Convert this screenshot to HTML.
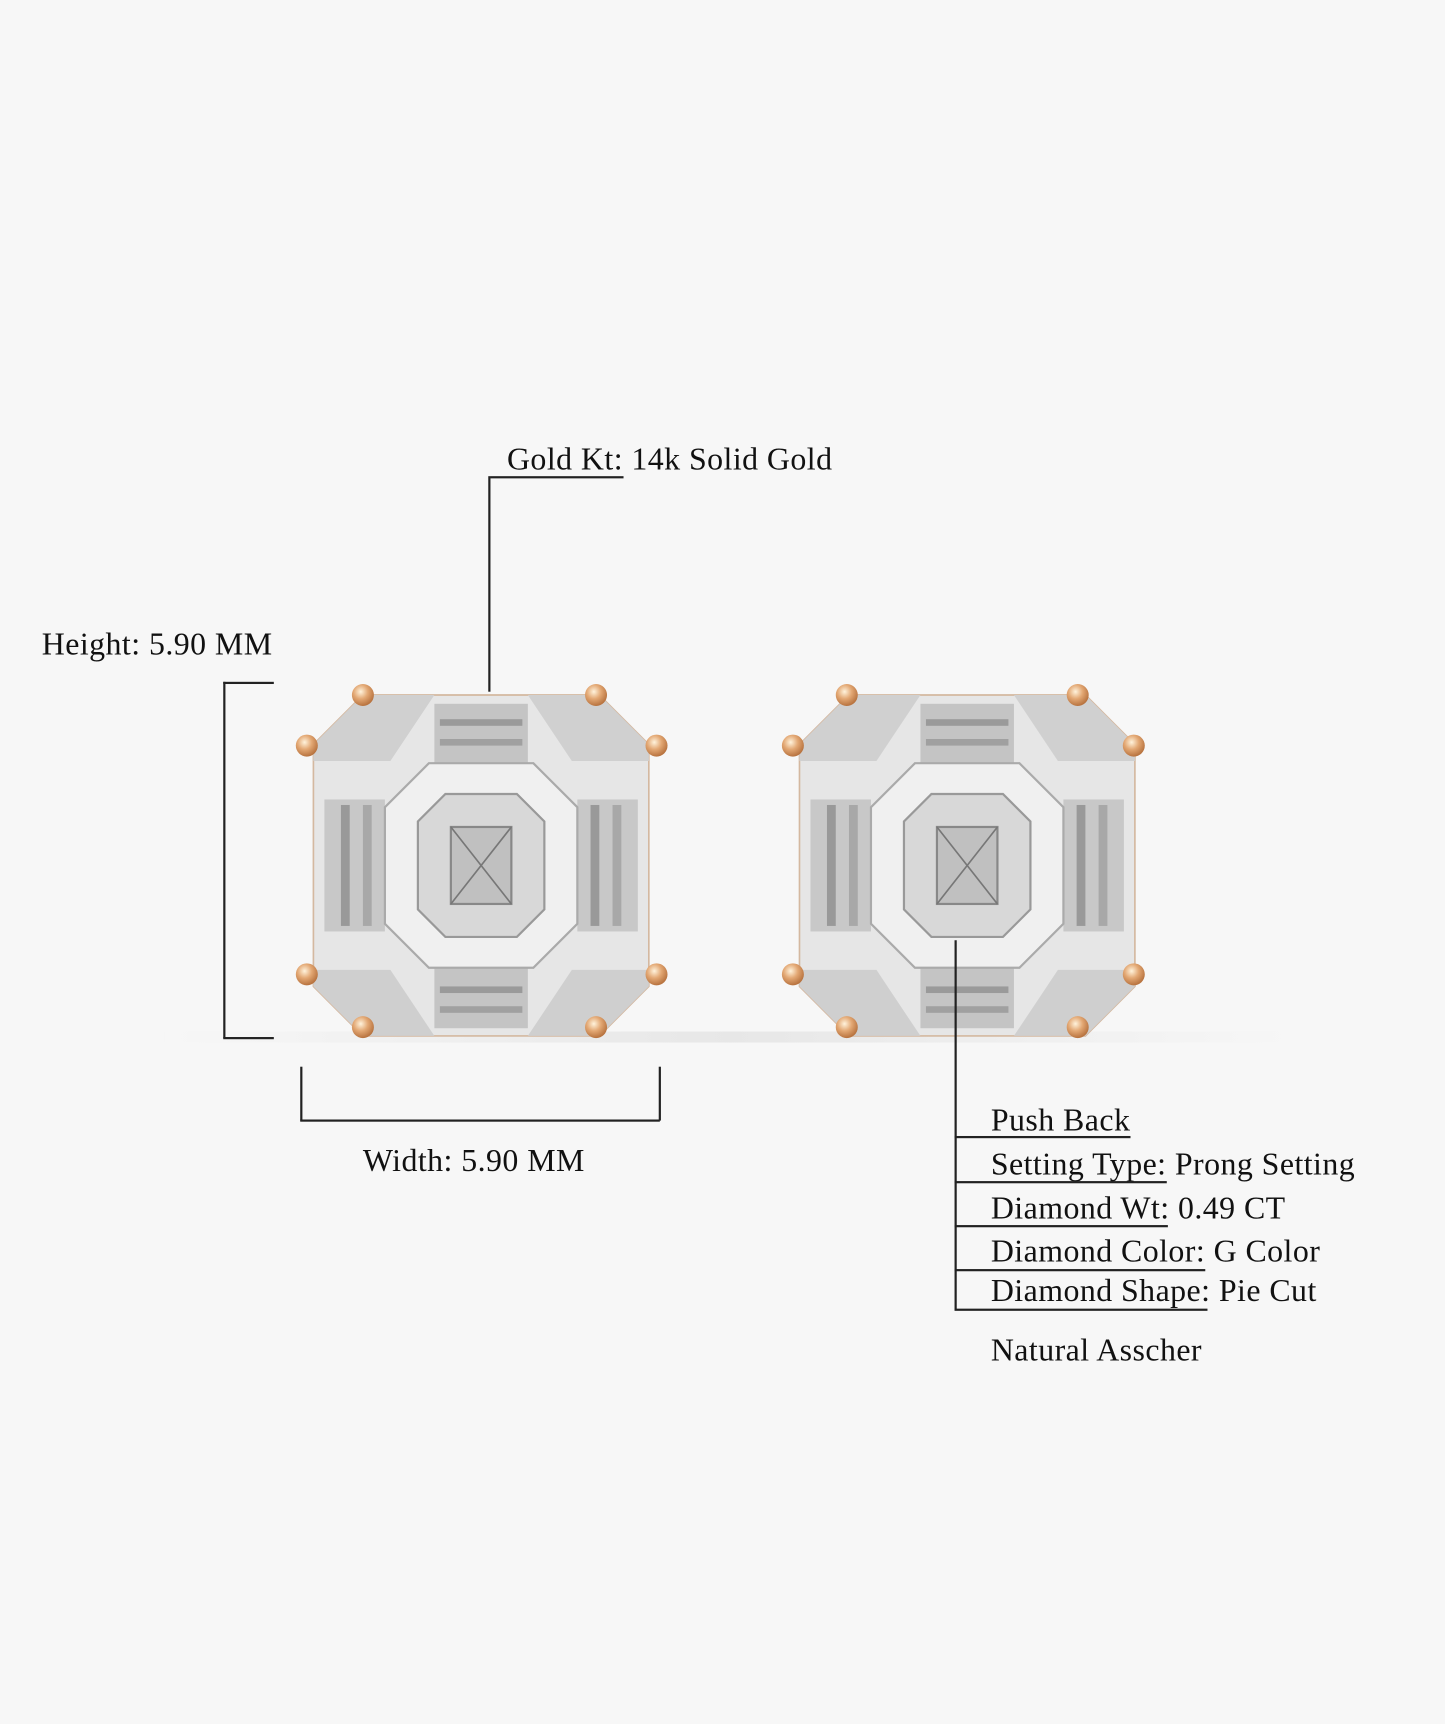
<!DOCTYPE html>
<html><head><meta charset="utf-8"><style>
html,body{margin:0;padding:0;background:#f7f7f7;}
#w{position:absolute;left:0;top:0;width:1314px;height:1568px;transform:scale(1.09970);transform-origin:0 0;font-family:"Liberation Serif",serif;color:#111;}
.t{position:absolute;font-size:29px;letter-spacing:0.4px;white-space:nowrap;line-height:1;}
.l{position:absolute;background:#222;}
</style></head><body><div id="w">
<svg width="1314" height="1568" style="position:absolute;left:0;top:0">
<defs>
<radialGradient id="pr" cx="40%" cy="35%" r="65%"><stop offset="0" stop-color="#fff3dc"/><stop offset=".5" stop-color="#e3a874"/><stop offset="1" stop-color="#b8733f"/></radialGradient>
<linearGradient id="sh" x1="0" y1="0" x2="1" y2="0"><stop offset="0" stop-color="#f7f7f7"/><stop offset=".5" stop-color="#dcdcdc"/><stop offset="1" stop-color="#f7f7f7"/></linearGradient>
<g id="ear">
<polygon points="45,0 260,0 305,45 305,265 260,310 45,310 0,265 0,45" fill="#e6e6e6" stroke="#d4b8a0" stroke-width="1.5"/>
<polygon points="45,0 110,0 70,60 0,60 0,45" fill="#d0d0d0"/>
<polygon points="195,0 260,0 305,45 305,60 235,60" fill="#d0d0d0"/>
<polygon points="0,250 70,250 110,310 45,310 0,265" fill="#cfcfcf"/>
<polygon points="305,250 235,250 195,310 260,310 305,265" fill="#cfcfcf"/>
<rect x="110" y="8" width="85" height="55" fill="#c4c4c4"/>
<rect x="115" y="22" width="75" height="6" fill="#9a9a9a"/><rect x="115" y="40" width="75" height="6" fill="#a0a0a0"/>
<rect x="110" y="248" width="85" height="55" fill="#c4c4c4"/>
<rect x="115" y="265" width="75" height="6" fill="#9a9a9a"/><rect x="115" y="283" width="75" height="6" fill="#a0a0a0"/>
<rect x="10" y="95" width="55" height="120" fill="#c8c8c8"/>
<rect x="25" y="100" width="8" height="110" fill="#999"/><rect x="45" y="100" width="8" height="110" fill="#a8a8a8"/>
<rect x="240" y="95" width="55" height="120" fill="#c8c8c8"/>
<rect x="252" y="100" width="8" height="110" fill="#999"/><rect x="272" y="100" width="8" height="110" fill="#a8a8a8"/>
<polygon points="105,62 200,62 240,102 240,208 200,248 105,248 65,208 65,102" fill="#f0f0f0" stroke="#aaa" stroke-width="2"/>
<polygon points="120,90 185,90 210,115 210,195 185,220 120,220 95,195 95,115" fill="#d8d8d8" stroke="#999" stroke-width="2"/>
<rect x="125" y="120" width="55" height="70" fill="#c0c0c0" stroke="#888" stroke-width="2"/>
<path d="M125,120 L180,190 M180,120 L125,190" stroke="#777" stroke-width="1.5"/>
</g>
</defs>
<rect x="150" y="938" width="1030" height="10" fill="url(#sh)" opacity=".6"/>
<use href="#ear" x="285" y="632"/>
<use href="#ear" x="727" y="632"/>
<g fill="url(#pr)">
<circle cx="330" cy="632" r="10"/><circle cx="542" cy="632" r="10"/><circle cx="279" cy="678" r="10"/><circle cx="597" cy="678" r="10"/><circle cx="279" cy="886" r="10"/><circle cx="597" cy="886" r="10"/><circle cx="330" cy="934" r="10"/><circle cx="542" cy="934" r="10"/>
<circle cx="770" cy="632" r="10"/><circle cx="980" cy="632" r="10"/><circle cx="721" cy="678" r="10"/><circle cx="1031" cy="678" r="10"/><circle cx="721" cy="886" r="10"/><circle cx="1031" cy="886" r="10"/><circle cx="770" cy="934" r="10"/><circle cx="980" cy="934" r="10"/>
</g>
</svg>
<div class="t" style="left:461px;top:404px">Gold Kt: 14k Solid Gold</div>
<div class="l" style="left:446px;top:433px;width:121px;height:1.5px"></div>
<div class="l" style="left:444px;top:433px;width:1.5px;height:196px"></div>
<div class="t" style="left:38px;top:572px">Height: 5.90 MM</div>
<div class="l" style="left:203px;top:620px;width:1.5px;height:324px"></div>
<div class="l" style="left:203px;top:620px;width:46px;height:1.5px"></div>
<div class="l" style="left:203px;top:943px;width:46px;height:1.5px"></div>
<div class="l" style="left:273px;top:970px;width:1.5px;height:49px"></div>
<div class="l" style="left:599px;top:970px;width:1.5px;height:49px"></div>
<div class="l" style="left:273px;top:1018px;width:327px;height:1.5px"></div>
<div class="t" style="left:330px;top:1042px">Width: 5.90 MM</div>
<div class="l" style="left:868px;top:855px;width:1.5px;height:336px"></div>
<div class="t" style="left:901px;top:1005px">Push Back</div>
<div class="l" style="left:868px;top:1033px;width:160px;height:1.5px"></div>
<div class="t" style="left:901px;top:1045px">Setting Type: Prong Setting</div>
<div class="l" style="left:868px;top:1074px;width:193px;height:1.5px"></div>
<div class="t" style="left:901px;top:1085px">Diamond Wt: 0.49 CT</div>
<div class="l" style="left:868px;top:1114px;width:194px;height:1.5px"></div>
<div class="t" style="left:901px;top:1124px">Diamond Color: G Color</div>
<div class="l" style="left:868px;top:1154px;width:228px;height:1.5px"></div>
<div class="t" style="left:901px;top:1160px">Diamond Shape: Pie Cut</div>
<div class="l" style="left:868px;top:1190px;width:230px;height:1.5px"></div>
<div class="t" style="left:901px;top:1214px">Natural Asscher</div>
</div></body></html>
